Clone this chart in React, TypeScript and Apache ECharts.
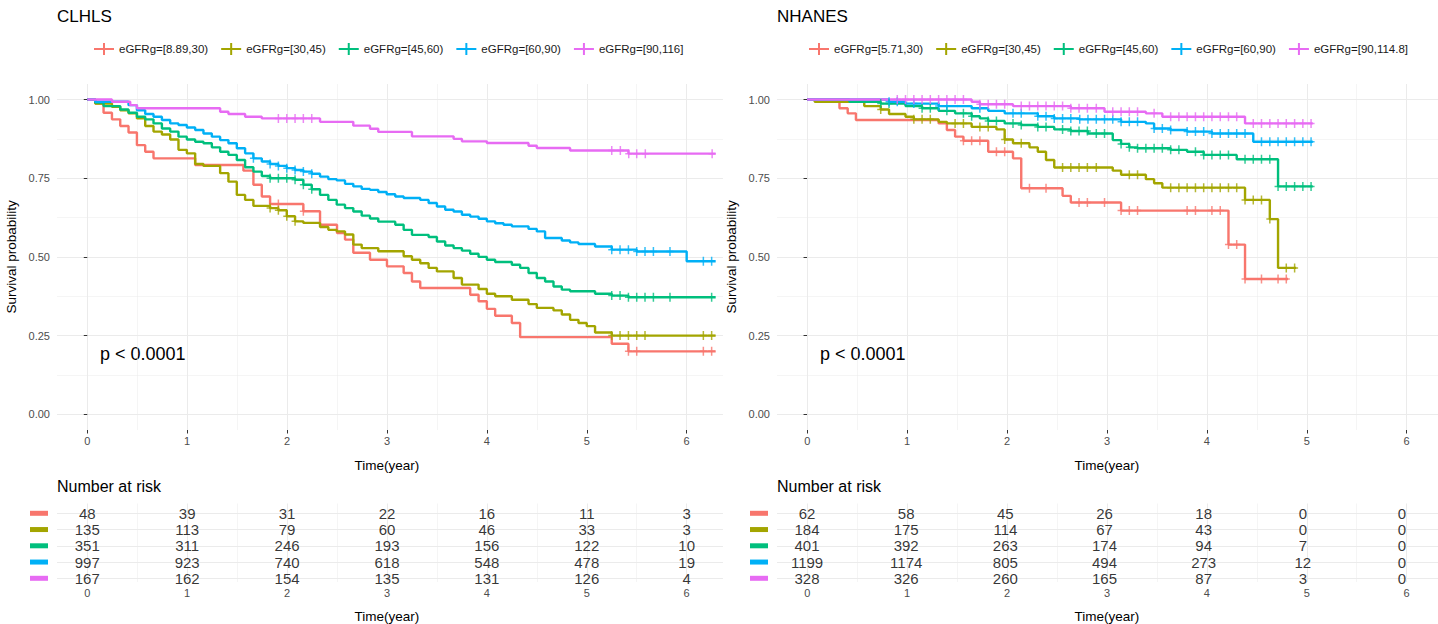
import React, { useEffect, useRef } from "react";
import * as echarts from "echarts";

const FONT = "'Liberation Sans', Arial, sans-serif";
const COLORS = ["#F8766D", "#A3A500", "#00BF7D", "#00B0F6", "#E76BF3"];

const xTicks = [0, 1, 2, 3, 4, 5, 6];
const yTicks = [0, 0.25, 0.5, 0.75, 1];
const riskTimes = [0, 1, 2, 3, 4, 5, 6];

const clhlsGroups = ["eGFRg=[8.89,30)", "eGFRg=[30,45)", "eGFRg=[45,60)", "eGFRg=[60,90)", "eGFRg=[90,116]"];
const nhanesGroups = ["eGFRg=[5.71,30)", "eGFRg=[30,45)", "eGFRg=[45,60)", "eGFRg=[60,90)", "eGFRg=[90,114.8]"];

// ---- CLHLS survival step curves [time, survival] ----
const clhlsRed = [[0,1],[0.08,0.987],[0.163,0.958],[0.247,0.937],[0.33,0.916],[0.413,0.895],[0.497,0.855],[0.58,0.834],[0.663,0.813],[1.08,0.792],[1.563,0.774],[1.663,0.729],[1.747,0.692],[1.83,0.668],[2.163,0.645],[2.33,0.602],[2.5,0.576],[2.58,0.555],[2.663,0.513],[2.83,0.491],[3.0,0.47],[3.167,0.449],[3.25,0.422],[3.333,0.401],[3.833,0.38],[3.917,0.359],[4.0,0.335],[4.083,0.313],[4.25,0.29],[4.333,0.245],[5.25,0.224],[5.417,0.2],[6.29,0.2]];
const clhlsOlive = [[0,1],[0.08,0.987],[0.247,0.977],[0.33,0.966],[0.413,0.956],[0.497,0.94],[0.58,0.916],[0.663,0.898],[0.747,0.889],[0.83,0.873],[0.913,0.84],[0.997,0.829],[1.08,0.795],[1.163,0.789],[1.33,0.766],[1.413,0.739],[1.497,0.697],[1.58,0.681],[1.663,0.662],[1.83,0.655],[1.913,0.648],[1.997,0.629],[2.08,0.613],[2.163,0.608],[2.33,0.595],[2.413,0.586],[2.497,0.581],[2.58,0.571],[2.663,0.539],[2.747,0.528],[2.913,0.518],[3.167,0.502],[3.25,0.491],[3.333,0.48],[3.417,0.465],[3.5,0.454],[3.667,0.433],[3.75,0.412],[3.917,0.398],[4.0,0.383],[4.083,0.375],[4.25,0.364],[4.417,0.35],[4.5,0.338],[4.667,0.33],[4.75,0.317],[4.833,0.3],[4.917,0.29],[5.0,0.28],[5.083,0.26],[5.25,0.25],[6.29,0.25]];
const clhlsGreen = [[0,1],[0.08,0.99],[0.163,0.979],[0.33,0.968],[0.413,0.958],[0.497,0.945],[0.58,0.937],[0.663,0.924],[0.747,0.908],[0.83,0.898],[0.913,0.882],[0.997,0.873],[1.08,0.866],[1.163,0.861],[1.247,0.848],[1.33,0.834],[1.413,0.824],[1.497,0.808],[1.58,0.785],[1.663,0.771],[1.747,0.757],[1.83,0.75],[2.08,0.745],[2.163,0.729],[2.247,0.715],[2.33,0.697],[2.413,0.681],[2.497,0.666],[2.58,0.655],[2.663,0.644],[2.747,0.631],[2.83,0.622],[2.913,0.612],[3.083,0.602],[3.167,0.586],[3.25,0.57],[3.417,0.563],[3.5,0.549],[3.583,0.536],[3.667,0.528],[3.75,0.52],[3.833,0.51],[3.917,0.5],[4.0,0.491],[4.083,0.484],[4.25,0.475],[4.333,0.465],[4.417,0.449],[4.5,0.433],[4.583,0.422],[4.667,0.406],[4.75,0.396],[4.833,0.391],[5.083,0.383],[5.25,0.377],[5.417,0.372],[6.29,0.372]];
const clhlsBlue = [[0,1],[0.08,0.993],[0.413,0.982],[0.497,0.966],[0.58,0.954],[0.663,0.945],[0.747,0.935],[0.83,0.924],[0.913,0.919],[0.997,0.911],[1.08,0.903],[1.163,0.892],[1.247,0.882],[1.33,0.871],[1.413,0.861],[1.497,0.845],[1.58,0.829],[1.663,0.813],[1.747,0.803],[1.83,0.795],[1.913,0.789],[1.997,0.782],[2.08,0.776],[2.163,0.771],[2.247,0.764],[2.33,0.755],[2.413,0.747],[2.497,0.743],[2.58,0.732],[2.663,0.724],[2.747,0.716],[2.83,0.713],[2.913,0.706],[2.997,0.699],[3.083,0.692],[3.167,0.687],[3.333,0.681],[3.417,0.671],[3.5,0.66],[3.583,0.65],[3.667,0.644],[3.75,0.634],[3.833,0.628],[3.917,0.621],[4.0,0.613],[4.083,0.607],[4.167,0.602],[4.25,0.597],[4.417,0.589],[4.5,0.581],[4.583,0.56],[4.75,0.552],[4.833,0.546],[4.917,0.541],[5.083,0.533],[5.25,0.523],[5.5,0.517],[6.0,0.486],[6.29,0.486]];
const clhlsPink = [[0,1],[0.247,0.993],[0.43,0.982],[0.497,0.972],[1.33,0.961],[1.413,0.954],[1.58,0.945],[1.747,0.94],[2.33,0.929],[2.663,0.917],[2.83,0.907],[2.913,0.897],[3.25,0.883],[3.667,0.875],[3.75,0.867],[4.0,0.862],[4.417,0.853],[4.5,0.846],[4.833,0.838],[5.417,0.828],[6.29,0.828]];

const clhlsCensRed = [1.913, 2.163, 5.417, 5.5, 6.167, 6.25];
const clhlsCensOlive = [1.83, 1.913, 1.997, 2.08, 5.25, 5.333, 5.417, 5.5, 5.583, 6.167, 6.25];
const clhlsCensGreen = [1.83, 1.913, 1.997, 2.08, 2.163, 2.247, 5.25, 5.333, 5.417, 5.5, 5.583, 5.667, 5.833, 6.25];
const clhlsCensBlue = [1.663, 1.83, 1.913, 1.997, 2.08, 2.163, 2.247, 5.25, 5.333, 5.417, 5.5, 5.583, 5.667, 5.833, 6.167, 6.25];
const clhlsCensPink = [1.913, 1.997, 2.08, 2.163, 2.247, 5.25, 5.336, 5.42, 5.5, 5.586, 6.255];

// ---- NHANES survival step curves ----
const nhanesRed = [[0,1],[0.327,0.972],[0.41,0.956],[0.493,0.935],[1.327,0.924],[1.41,0.903],[1.493,0.882],[1.577,0.869],[1.827,0.834],[2.077,0.813],[2.16,0.718],[2.577,0.694],[2.66,0.673],[3.167,0.647],[4.25,0.539],[4.417,0.43],[4.85,0.43]];
const nhanesOlive = [[0,1],[0.077,0.993],[0.577,0.979],[0.743,0.968],[0.827,0.954],[0.993,0.945],[1.077,0.937],[1.327,0.929],[1.41,0.924],[1.66,0.913],[1.91,0.905],[1.993,0.873],[2.077,0.861],[2.243,0.848],[2.327,0.834],[2.41,0.808],[2.493,0.784],[3.083,0.774],[3.167,0.761],[3.417,0.747],[3.5,0.734],[3.583,0.72],[4.417,0.681],[4.667,0.62],[4.75,0.465],[4.933,0.465]];
const nhanesGreen = [[0,1],[0.427,0.993],[0.743,0.987],[0.993,0.979],[1.16,0.972],[1.327,0.964],[1.493,0.956],[1.66,0.947],[1.743,0.94],[1.827,0.932],[1.993,0.924],[2.16,0.919],[2.327,0.913],[2.493,0.905],[2.66,0.9],[2.833,0.892],[3.083,0.871],[3.167,0.859],[3.25,0.848],[3.333,0.845],[3.667,0.84],[3.833,0.834],[4.0,0.824],[4.333,0.81],[4.75,0.724],[5.1,0.724]];
const nhanesBlue = [[0,1],[0.827,0.993],[0.993,0.987],[1.327,0.979],[1.66,0.972],[1.827,0.964],[1.993,0.956],[2.327,0.947],[2.493,0.94],[2.743,0.937],[3.167,0.929],[3.417,0.924],[3.5,0.908],[3.667,0.903],[3.833,0.898],[4.083,0.892],[4.5,0.866],[5.1,0.866]];
const nhanesPink = [[0,1],[1.66,0.993],[1.743,0.985],[2.077,0.979],[2.66,0.972],[3.0,0.961],[3.417,0.956],[3.583,0.945],[4.417,0.924],[5.1,0.924]];

const nhanesCensRed = [1.577, 1.66, 1.743, 1.91, 1.993, 2.243, 2.41, 2.743, 2.827, 3.0, 3.167, 3.25, 3.333, 3.833, 3.917, 4.083, 4.167, 4.25, 4.333, 4.417, 4.583, 4.75, 4.833];
const nhanesCensOlive = [0.743, 1.077, 1.16, 1.243, 1.493, 1.577, 1.743, 1.827, 1.993, 2.16, 2.577, 2.66, 2.743, 2.827, 2.917, 3.25, 3.333, 3.667, 3.75, 3.833, 3.917, 4.0, 4.083, 4.167, 4.25, 4.333, 4.417, 4.5, 4.583, 4.667, 4.833, 4.917];
const nhanesCensGreen = [0.743, 0.827, 1.16, 1.243, 1.41, 1.577, 1.66, 1.827, 1.91, 2.077, 2.16, 2.327, 2.41, 2.577, 2.66, 2.743, 2.827, 2.917, 3.0, 3.167, 3.25, 3.333, 3.417, 3.5, 3.583, 3.667, 3.75, 3.917, 4.0, 4.083, 4.167, 4.25, 4.417, 4.5, 4.583, 4.667, 4.75, 4.833, 4.917, 5.0, 5.083];
const nhanesCensBlue = [0.827, 0.91, 1.077, 1.327, 1.41, 1.743, 2.077, 2.16, 2.327, 2.41, 2.493, 2.577, 2.66, 2.75, 2.833, 2.917, 3.0, 3.083, 3.167, 3.25, 3.333, 3.5, 3.583, 3.667, 3.833, 3.917, 4.0, 4.083, 4.167, 4.25, 4.333, 4.417, 4.583, 4.667, 4.75, 4.833, 4.917, 5.0, 5.083];
const nhanesCensPink = [0.91, 0.993, 1.077, 1.16, 1.243, 1.327, 1.41, 1.493, 1.577, 1.743, 1.827, 1.91, 1.993, 2.16, 2.243, 2.327, 2.41, 2.493, 2.577, 2.66, 2.743, 2.827, 2.917, 3.083, 3.167, 3.25, 3.333, 3.5, 3.667, 3.75, 3.833, 3.917, 4.0, 4.083, 4.167, 4.25, 4.333, 4.5, 4.583, 4.667, 4.75, 4.833, 4.917, 5.0, 5.083];

// ---- Numbers at risk ----
const clhlsRisk = [
  [48, 39, 31, 22, 16, 11, 3],
  [135, 113, 79, 60, 46, 33, 3],
  [351, 311, 246, 193, 156, 122, 10],
  [997, 923, 740, 618, 548, 478, 19],
  [167, 162, 154, 135, 131, 126, 4],
];
const nhanesRisk = [
  [62, 58, 45, 26, 18, 0, 0],
  [184, 175, 114, 67, 43, 0, 0],
  [401, 392, 263, 174, 94, 7, 0],
  [1199, 1174, 805, 494, 273, 12, 0],
  [328, 326, 260, 165, 87, 3, 0],
];

const panels = [
  {
    title: "CLHLS",
    groups: clhlsGroups,
    curves: [clhlsRed, clhlsOlive, clhlsGreen, clhlsBlue, clhlsPink],
    censors: [clhlsCensRed, clhlsCensOlive, clhlsCensGreen, clhlsCensBlue, clhlsCensPink],
    risk: clhlsRisk,
    left: 57,
    legendLeft: 94,
  },
  {
    title: "NHANES",
    groups: nhanesGroups,
    curves: [nhanesRed, nhanesOlive, nhanesGreen, nhanesBlue, nhanesPink],
    censors: [nhanesCensRed, nhanesCensOlive, nhanesCensGreen, nhanesCensBlue, nhanesCensPink],
    risk: nhanesRisk,
    left: 777,
    legendLeft: 809,
  },
];

const XMIN = -0.303;
const XMAX = 6.363;
const PXY = 99.9;

function survAt(curve: number[][], t: number) {
  let s = curve[0][1];
  for (const [ti, si] of curve) {
    if (ti <= t + 1e-9) s = si;
    else break;
  }
  return s;
}

const PLUS = "path://M5.5,0H8.5V7.5H14V10.5H8.5V18H5.5V10.5H0V7.5H5.5Z";
const LEGEND_ICON = "path://M0,5H20V7H0Z M9,0H11V12H9Z";

const MAJOR = { color: "#EBEBEB", width: 1 };
const MINOR = { color: "#EBEBEB", width: 0.5 };

function buildOption() {
  const grid: any[] = [];
  const xAxis: any[] = [];
  const yAxis: any[] = [];
  const series: any[] = [];
  const title: any[] = [];
  const legend: any[] = [];
  const graphic: any[] = [];
  const panelWidth = (XMAX - XMIN) * PXY;
  const tickLeftOffset = (0 - XMIN) * PXY;
  const tickWidth = (xTicks[xTicks.length - 1] - xTicks[0]) * PXY;

  panels.forEach((p, pi) => {
    const base = pi * 4;
    // A: vertical grid lines + x labels for survival plot
    grid.push({ left: p.left + tickLeftOffset, width: tickWidth, top: 84, height: 346 });
    xAxis.push({
      type: "value", gridIndex: base, min: xTicks[0], max: xTicks[xTicks.length - 1], interval: 1,
      splitLine: { show: true, lineStyle: MAJOR },
      minorTick: { show: false, splitNumber: 2 },
      minorSplitLine: { show: true, lineStyle: MINOR },
      axisLine: { show: false },
      axisTick: { show: true, length: 3.5, lineStyle: { color: "#333333", width: 1 } },
      axisLabel: { margin: 5, color: "#4D4D4D", fontSize: 11, fontFamily: FONT },
      name: "Time(year)", nameLocation: "middle", nameGap: 28,
      nameTextStyle: { fontSize: 13.5, color: "#000", fontFamily: FONT },
    });
    yAxis.push({ type: "value", gridIndex: base, min: 0, max: 1, show: false });

    // B: survival curves + horizontal grid + y labels
    grid.push({ left: p.left, width: panelWidth, top: 99.5, height: 314.8 });
    xAxis.push({ type: "value", gridIndex: base + 1, min: XMIN, max: XMAX, show: false });
    yAxis.push({
      type: "value", gridIndex: base + 1, min: yTicks[0], max: yTicks[yTicks.length - 1], interval: 0.25,
      splitLine: { show: true, lineStyle: MAJOR },
      minorTick: { show: false, splitNumber: 2 },
      minorSplitLine: { show: true, lineStyle: MINOR },
      axisLine: { show: false },
      axisTick: { show: true, length: 3.5, lineStyle: { color: "#333333", width: 1 } },
      axisLabel: { margin: 7, color: "#4D4D4D", fontSize: 11, fontFamily: FONT, formatter: (v: number) => v.toFixed(2) },
      name: "Survival probability", nameLocation: "middle", nameGap: 39,
      nameTextStyle: { fontSize: 13.5, color: "#000", fontFamily: FONT },
    });

    // C: risk table rows
    grid.push({ left: p.left, width: panelWidth, top: 513.3, height: 65 });
    xAxis.push({ type: "value", gridIndex: base + 2, min: XMIN, max: XMAX, show: false });
    const rich: any = {};
    COLORS.forEach((c, i) => {
      rich["s" + (i + 1)] = { backgroundColor: c, width: 18, height: 5, fontSize: 4, lineHeight: 5 };
    });
    yAxis.push({
      type: "value", gridIndex: base + 2, min: 1, max: 5, interval: 1, inverse: true,
      splitLine: { show: true, lineStyle: MAJOR },
      axisLine: { show: false }, axisTick: { show: false },
      axisLabel: { margin: 9, formatter: (v: number) => `{s${v}| }`, rich },
    });

    // D: risk table vertical lines + x labels
    grid.push({ left: p.left + tickLeftOffset, width: tickWidth, top: 503.5, height: 84.5 });
    xAxis.push({
      type: "value", gridIndex: base + 3, min: riskTimes[0], max: riskTimes[riskTimes.length - 1], interval: 1,
      splitLine: { show: true, lineStyle: MAJOR },
      minorTick: { show: false, splitNumber: 2 },
      minorSplitLine: { show: true, lineStyle: MINOR },
      axisLine: { show: false }, axisTick: { show: false },
      axisLabel: { margin: 5, color: "#4D4D4D", fontSize: 11, fontFamily: FONT },
      name: "Time(year)", nameLocation: "middle", nameGap: 27,
      nameTextStyle: { fontSize: 13.5, color: "#000", fontFamily: FONT },
    });
    yAxis.push({ type: "value", gridIndex: base + 3, min: 0, max: 1, show: false });

    p.groups.forEach((name, gi) => {
      const c = COLORS[gi];
      series.push({
        type: "line", name, xAxisIndex: base + 1, yAxisIndex: base + 1,
        data: p.curves[gi], step: "end", showSymbol: false, symbol: "none", clip: false,
        color: c, itemStyle: { color: c }, lineStyle: { color: c, width: 2.4 }, z: 3,
      });
      series.push({
        type: "scatter", name: "censor " + pi + "-" + gi, xAxisIndex: base + 1, yAxisIndex: base + 1,
        data: p.censors[gi].map((t) => [t, survAt(p.curves[gi], t)]),
        symbol: PLUS, symbolSize: [7, 9], clip: false,
        itemStyle: { color: c }, z: 4, silent: true,
      });
    });

    p.risk.forEach((row, ri) => {
      series.push({
        type: "scatter", name: "risk " + pi + "-" + ri, xAxisIndex: base + 2, yAxisIndex: base + 2,
        data: riskTimes.map((t, j) => [t, ri + 1, row[j]]),
        symbolSize: 1, itemStyle: { color: "rgba(0,0,0,0)" }, clip: false, silent: true,
        label: {
          show: true, position: "inside", formatter: (d: any) => String(d.value[2]),
          fontSize: 15, color: "#000", fontFamily: FONT,
        },
      });
    });

    title.push({
      text: p.title, left: p.left, top: 8, padding: 0,
      textStyle: { fontSize: 17, fontWeight: "normal", color: "#000", fontFamily: FONT },
    });
    title.push({
      text: "Number at risk", left: p.left, top: 478.5, padding: 0,
      textStyle: { fontSize: 16, fontWeight: "normal", color: "#000", fontFamily: FONT },
    });
    legend.push({
      data: p.groups, left: p.legendLeft, top: 43, padding: 0, icon: LEGEND_ICON,
      itemWidth: 20, itemHeight: 12, itemGap: 13, selectedMode: false,
      textStyle: { fontSize: 11.5, color: "#1A1A1A", fontFamily: FONT },
    });
    graphic.push({
      type: "text", left: p.left + 43, top: 345,
      style: { text: "p < 0.0001", fontSize: 18, fill: "#000", fontFamily: FONT },
    });
  });

  return {
    animation: false,
    backgroundColor: "#FFFFFF",
    textStyle: { fontFamily: FONT },
    title, legend, grid, xAxis, yAxis, series, graphic,
  };
}

export default function App() {
  const ref = useRef<HTMLDivElement>(null);
  useEffect(() => {
    if (!ref.current) return;
    const chart = echarts.init(ref.current, undefined, { renderer: "svg" });
    chart.setOption(buildOption() as any);
    return () => chart.dispose();
  }, []);
  return (
    <div
      ref={ref}
      style={{ position: "fixed", left: 0, top: 0, width: 1438, height: 624, background: "#fff" }}
    />
  );
}
